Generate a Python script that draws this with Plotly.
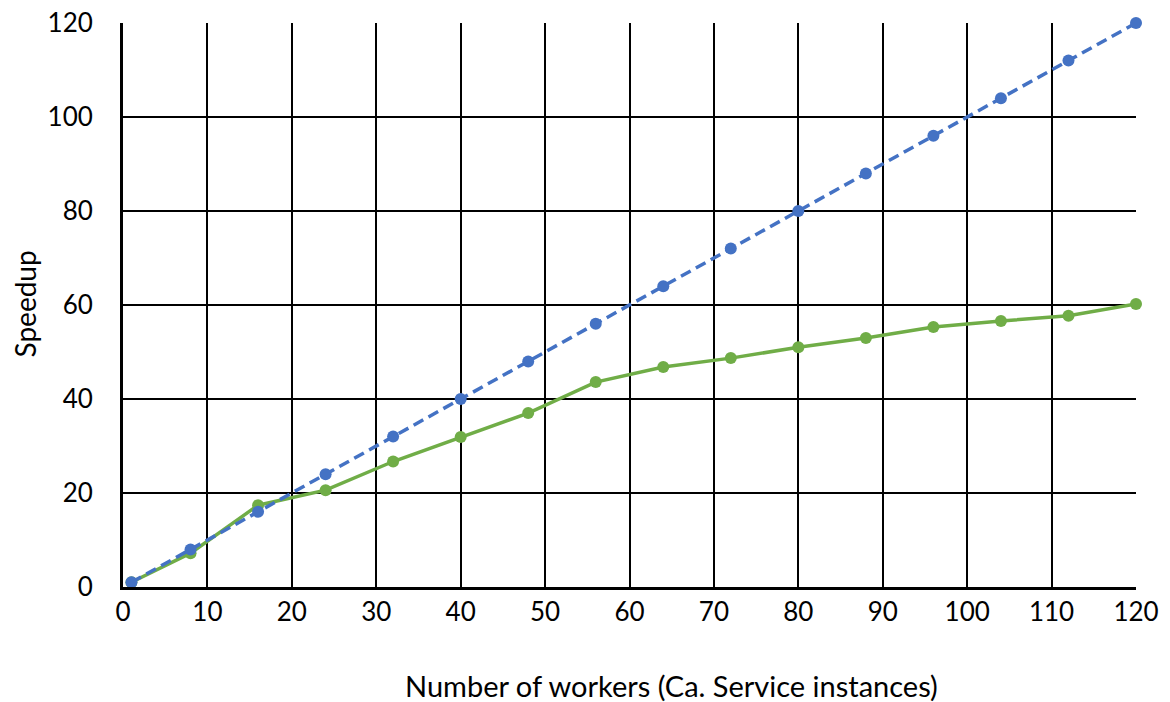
import plotly.graph_objects as go

workers = [1, 8, 16, 24, 32, 40, 48, 56, 64, 72, 80, 88, 96, 104, 112, 120]
ideal_speedup = [1, 8, 16, 24, 32, 40, 48, 56, 64, 72, 80, 88, 96, 104, 112, 120]
measured_speedup = [1, 7.2, 17.4, 20.6, 26.7, 31.9, 37.0, 43.6, 46.8, 48.7, 51.0, 53.0, 55.3, 56.6, 57.7, 60.2]

x_ticks = list(range(0, 121, 10))
y_ticks = list(range(0, 121, 20))

fig = go.Figure()
fig.add_trace(go.Scatter(
    x=workers, y=measured_speedup, mode="lines+markers",
    line=dict(color="#70AD47", width=3.5),
    marker=dict(color="#70AD47", size=12),
    cliponaxis=False, name="Measured"))
fig.add_trace(go.Scatter(
    x=workers, y=ideal_speedup, mode="lines+markers",
    line=dict(color="#4472C4", width=3.5, dash="11px,6px"),
    marker=dict(color="#4472C4", size=12),
    cliponaxis=False, name="Ideal"))

font = "Lato, 'Open Sans', sans-serif"
fig.update_layout(
    width=1170, height=702,
    margin=dict(l=123, r=34, t=23, b=115),
    paper_bgcolor="white", plot_bgcolor="white",
    showlegend=False,
    font=dict(family=font, size=26, color="black"),
    xaxis=dict(range=[0, 120], tickvals=x_ticks, showgrid=True, gridcolor="black", gridwidth=1.5,
               showline=True, linecolor="black", linewidth=3, zeroline=False, automargin=False,
               ticks="", ticklen=0, tickfont=dict(size=26), ticklabeloverflow="allow"),
    yaxis=dict(range=[0, 120], tickvals=y_ticks, showgrid=True, gridcolor="black", gridwidth=1.5,
               showline=True, linecolor="black", linewidth=3, zeroline=False, automargin=False,
               ticks="outside", ticklen=22, tickcolor="rgba(0,0,0,0)", tickfont=dict(size=26),
               ticklabeloverflow="allow"),
    annotations=[
        dict(text="Number of workers (Ca. Service instances)", xref="paper", yref="paper",
             x=0.541, y=-0.174, xanchor="center", yanchor="middle", showarrow=False,
             font=dict(size=29)),
        dict(text="Speedup", xref="paper", yref="paper", textangle=-90,
             x=-0.0967, y=0.501, xanchor="center", yanchor="middle", showarrow=False,
             font=dict(size=28)),
    ],
)
fig.write_html("out.html", post_script="document.body.style.margin='0';",
               config={"displayModeBar": False})
